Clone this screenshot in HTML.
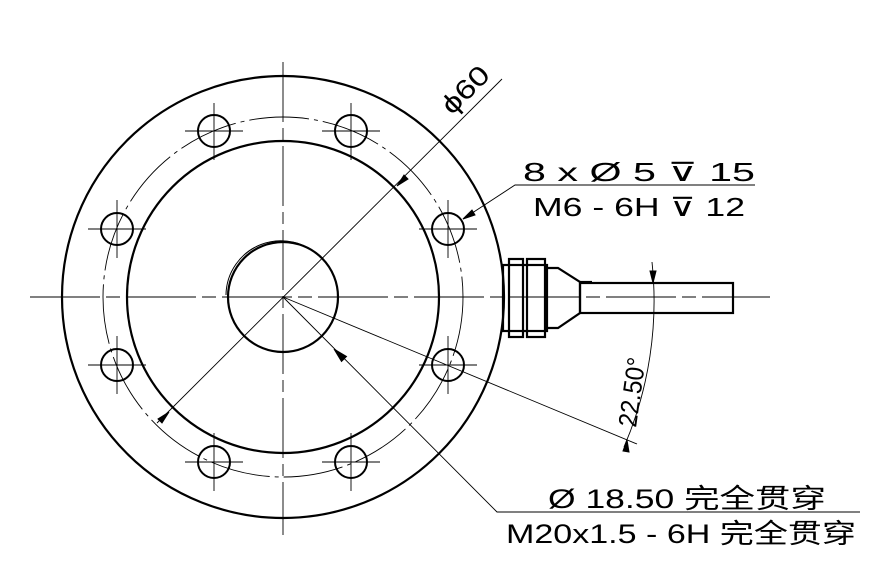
<!DOCTYPE html>
<html><head><meta charset="utf-8"><style>html,body{margin:0;padding:0;background:#fff}svg{display:block}</style></head>
<body>
<svg width="889" height="581" viewBox="0 0 889 581" xmlns="http://www.w3.org/2000/svg" font-family="'Liberation Sans','Noto Sans CJK SC',sans-serif">
<g fill="none" stroke="#000">
  <circle cx="283" cy="297" r="221" stroke-width="2.2"/>
  <circle cx="283" cy="297" r="156" stroke-width="2.2"/>
  <circle cx="283" cy="297" r="180" stroke-width="0.9" stroke-dasharray="60 5 4 5"/>
  <circle cx="283" cy="297" r="55" stroke-width="2.2"/>
  <path d="M228 297 A55 55 0 0 1 323 260" stroke-width="1" transform="translate(-2,-2)"/>
  <g stroke-width="2">
    <circle cx="214" cy="131" r="16"/><circle cx="351" cy="131" r="16"/>
    <circle cx="117" cy="229" r="16"/><circle cx="448" cy="229" r="16"/>
    <circle cx="117" cy="365" r="16"/><circle cx="448" cy="365" r="16"/>
    <circle cx="214" cy="462" r="16"/><circle cx="351" cy="462" r="16"/>
  </g>
  <g stroke-width="0.9">
    <path d="M185 131H243M214 103V160M322 131H380M351 103V160"/>
    <path d="M88 229H146M117 200V258M419 229H477M448 200V258"/>
    <path d="M88 365H146M117 336V394M419 365H477M448 336V394"/>
    <path d="M185 462H243M214 433V491M322 462H380M351 433V491"/>
    <path d="M30 297H770" stroke-dasharray="70 6 14 6"/>
    <path d="M283 62V535" stroke-dasharray="60 6 12 6"/>
    <path d="M157 423L502 79"/>
    <path d="M463 219L515 185H755"/>
    <path d="M283 297L497 512H860"/>
    <path d="M283 297L637 444"/>
    <path d="M652 262A369 369 0 0 1 624 447"/>
  </g>
  <g fill="#000" stroke="#000" stroke-width="1">
    <path d="M397 186L404 175L408 179Z"/>
    <path d="M169 412L162 423L158 419Z"/>
    <path d="M463 219L472 210L475 215Z"/>
    <path d="M334 349L346.5 356.5L341.5 361.5Z"/>
    <path d="M653 283L650 271L656 271Z"/>
    <path d="M627 440L629 452L623 451Z"/>
  </g>
  <g stroke-width="2.2">
    <rect x="503" y="265" width="44" height="66"/>
    <rect x="509" y="259" width="14" height="78"/>
    <rect x="527" y="259" width="18" height="78"/>
    <path d="M547 268L558 268L580 282V313L558 328H547"/>
    <rect x="580" y="283" width="153" height="30"/>
    <path d="M580 282H592"/>
  </g>
</g>
<g fill="#000">
  <text x="0" y="0" transform="translate(452,116) rotate(-45)" font-size="27" textLength="56" lengthAdjust="spacingAndGlyphs">ϕ60</text>
  <text x="523" y="181" font-size="26" textLength="232" lengthAdjust="spacingAndGlyphs">8 x Ø 5 ⊽ 15</text>
  <text x="533" y="216" font-size="26" textLength="212" lengthAdjust="spacingAndGlyphs">M6 - 6H ⊽ 12</text>
  <text x="0" y="0" transform="translate(636,428) rotate(-82)" font-size="26" textLength="70" lengthAdjust="spacingAndGlyphs">22.50°</text>
  <text x="548" y="508" font-size="27" textLength="278" lengthAdjust="spacingAndGlyphs">Ø 18.50 完全贯穿</text>
  <text x="506" y="543" font-size="27" textLength="350" lengthAdjust="spacingAndGlyphs">M20x1.5 - 6H 完全贯穿</text>
</g>
</svg>
</body></html>
